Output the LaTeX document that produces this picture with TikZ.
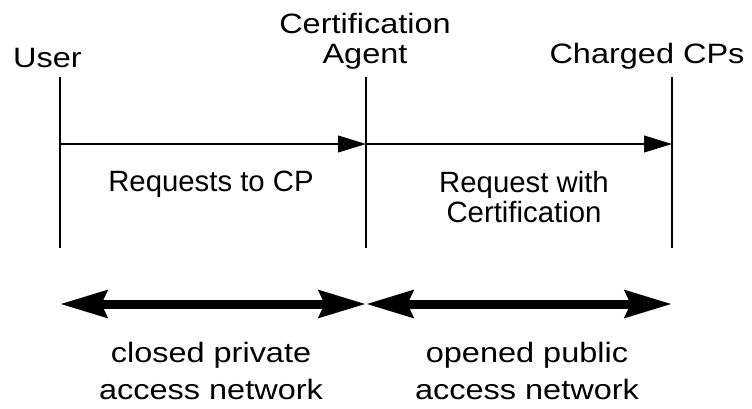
\documentclass[tikz,border=0pt]{standalone}
\usepackage{fontspec}
\setmainfont{Liberation Sans}
\newfontfamily\widefont[FakeStretch=1.16]{Liberation Sans}
\usetikzlibrary{arrows.meta}

\begin{document}
\begin{tikzpicture}[x=0.75pt,y=-0.75pt,
        lifeline/.style={line width=1.4pt},
        msg/.style={-{Triangle[length=21pt,width=12.5pt]},line width=1.5pt},
        span/.style={{Stealth[length=35pt,width=20pt,inset=4pt]}-{Stealth[length=35pt,width=20pt,inset=4pt]},line width=6.75pt},
        party/.style={inner sep=0pt,align=center,font=\widefont\fontsize{21}{22.5}\selectfont},
        net/.style={inner sep=0pt,align=center,font=\widefont\fontsize{21}{27.75}\selectfont},
        txt/.style={inner sep=0pt,align=center,font=\fontsize{22}{22.5}\selectfont}]

  \useasboundingbox (0,0) rectangle (752,408);

  % parties
  \node[party,anchor=base] (user) at (47.5,67) {User};
  \node[party,anchor=north] (agent) at (365,12.5) {Certification\\Agent};
  \node[party,anchor=base] (cps) at (647,63) {Charged CPs};

  % lifelines
  \coordinate (u0) at (60,77);   \coordinate (u1) at (60,248);
  \coordinate (a0) at (366,77);  \coordinate (a1) at (366,248);
  \coordinate (c0) at (672,77);  \coordinate (c1) at (672,248);
  \draw[lifeline] (u0) -- (u1);
  \draw[lifeline] (a0) -- (a1);
  \draw[lifeline] (c0) -- (c1);

  % messages
  \coordinate (um) at (60,144);
  \coordinate (am) at (366,144);
  \coordinate (cm) at (672,144);
  \draw[msg] (um) -- (am);
  \draw[msg] (am) -- (cm);
  \node[txt,anchor=base] (req) at (211,191) {Requests to CP};
  \node[txt,anchor=north] (reqcert) at (524,171) {Request with\\Certification};

  % networks
  \coordinate (ul) at (60,304);
  \coordinate (al) at (366,304);
  \coordinate (cl) at (672,304);
  \draw[span] (ul) -- (al);
  \draw[span] (al) -- (cl);
  \node[net,anchor=north] (closed) at (211,342) {closed private\\access network};
  \node[net,anchor=north] (opened) at (527,342) {opened public\\access network};

\end{tikzpicture}
\end{document}
